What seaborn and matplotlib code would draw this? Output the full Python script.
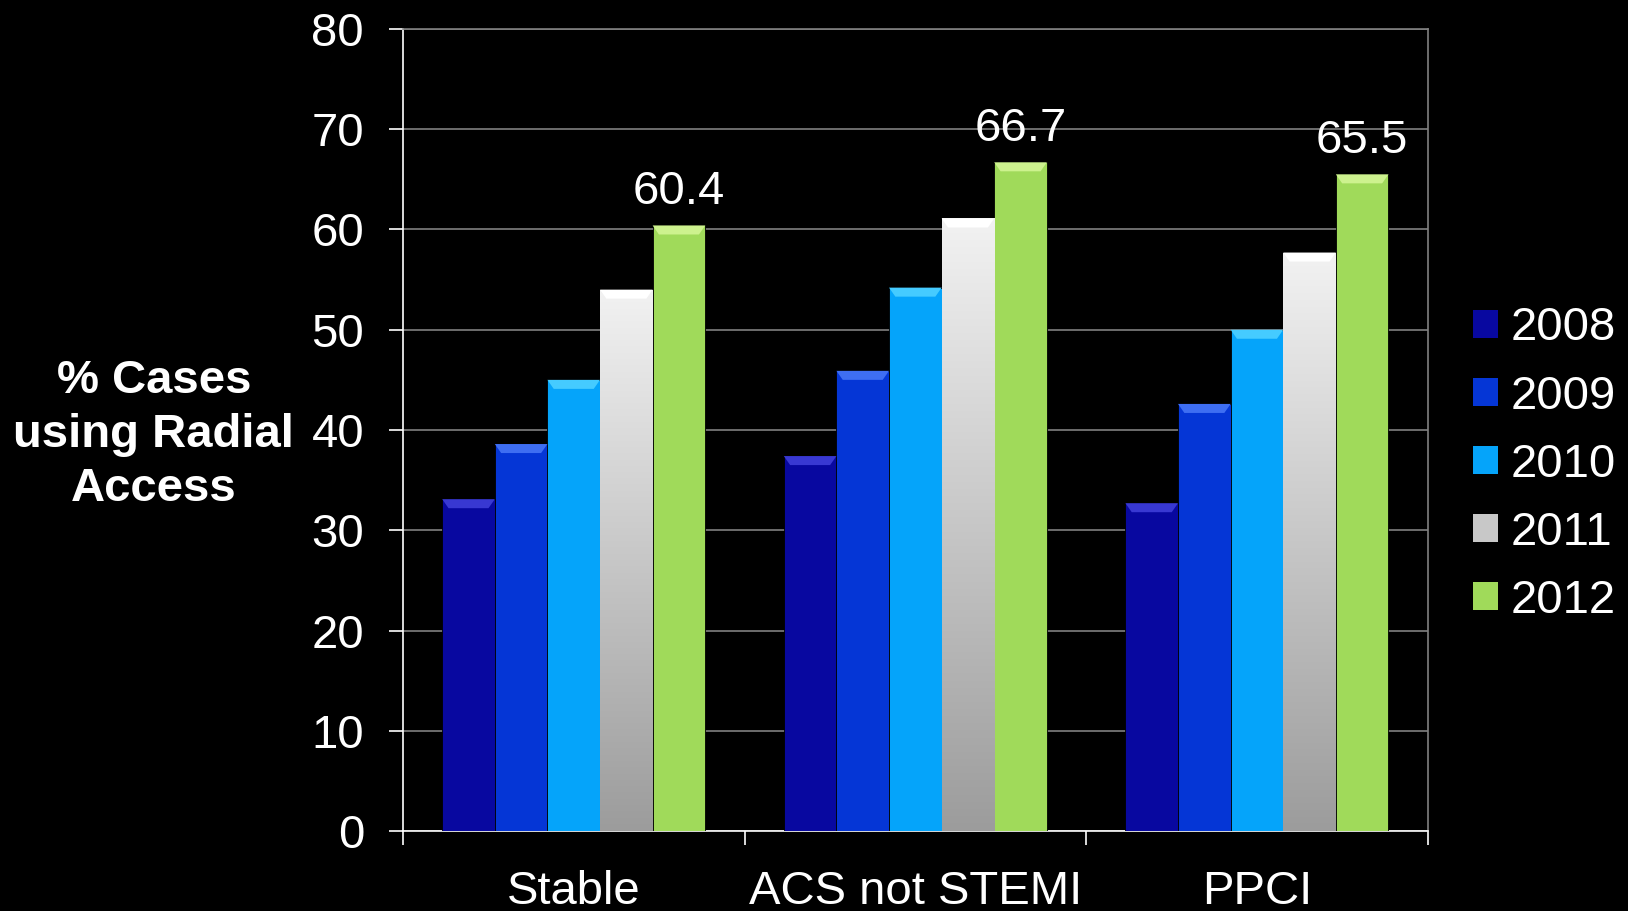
import numpy as np
import pandas as pd
import matplotlib
matplotlib.use("Agg")
import matplotlib.pyplot as plt
from matplotlib.patches import Patch, Polygon
import seaborn as sns

categories = ["Stable", "ACS not STEMI", "PPCI"]
years = ["2008", "2009", "2010", "2011", "2012"]
v2008 = [33.1, 37.4, 32.7]
v2009 = [38.6, 45.9, 42.6]
v2010 = [45.0, 54.2, 50.0]
v2011 = [54.0, 61.1, 57.7]
v2012 = [60.4, 66.7, 65.5]
yticks = [0, 10, 20, 30, 40, 50, 60, 70, 80]

colors = ["#0808A0", "#0536D6", "#05A4FA", "#C8C8C8", "#A0DA5A"]
bevel = ["#3838D2", "#3E6EF2", "#45CBFF", "#FFFFFF", "#CDF28E"]

series = [v2008, v2009, v2010, v2011, v2012]
rows = []
for y, vals in zip(years, series):
    for c, v in zip(categories, vals):
        rows.append({"category": c, "year": y, "value": v})
df = pd.DataFrame(rows)

sns.set_theme(style="dark")
plt.rcParams["font.family"] = ["Liberation Sans", "DejaVu Sans"]

fig = plt.figure(figsize=(16.28, 9.11), dpi=100, facecolor="black")
ax = fig.add_axes([0.2475, 0.0878, 0.6295, 0.8804])
ax.set_facecolor("black")

sns.barplot(data=df, x="category", y="value", hue="year", palette=colors,
            width=0.77, saturation=1, ax=ax, legend=False,
            edgecolor="#000000", linewidth=0.6, zorder=3)

# gradient for 2011 bars
grad = np.linspace(0, 1, 256).reshape(-1, 1)
cmap = matplotlib.colors.LinearSegmentedColormap.from_list("g", ["#F2F2F2", "#9C9C9C"])
for p in ax.containers[3]:
    x0, y0 = p.get_x(), p.get_y()
    w, h = p.get_width(), p.get_height()
    im = ax.imshow(grad, extent=[x0, x0 + w, y0, y0 + h], origin="upper",
                   cmap=cmap, aspect="auto", zorder=3.5)
    im.set_clip_path(p)

# bevel highlight on bar tops
for cont, bc in zip(ax.containers, bevel):
    for p in cont:
        x0, w, top = p.get_x(), p.get_width(), p.get_y() + p.get_height()
        d = w * 0.12
        hh = 0.9
        ax.add_patch(Polygon([(x0, top), (x0 + w, top), (x0 + w - d, top - hh),
                              (x0 + d, top - hh)], closed=True, facecolor=bc,
                             edgecolor="none", zorder=4))

ax.bar_label(ax.containers[4], fmt="%.1f", padding=8, color="white", fontsize=34)

ax.set_xlim(-0.5, 2.5)
ax.set_ylim(0, 80)
ax.set_yticks(yticks)
ax.set_yticklabels([str(t) for t in yticks])
ax.yaxis.grid(True, color="#808080", linewidth=1.2)
ax.xaxis.grid(False)
ax.set_axisbelow(True)

ax.tick_params(axis="y", colors="white", labelsize=34, length=10, width=1.2,
               direction="out", pad=18, left=True)
ax.tick_params(axis="x", colors="white", labelsize=34, length=0, pad=28)
ax.set_xticks([-0.5, 0.5, 1.5, 2.5], minor=True)
ax.tick_params(axis="x", which="minor", length=10, width=1.2, color="white",
               direction="out", bottom=True)
ax.set_xlabel("")
ax.set_ylabel("% Cases\nusing Radial\nAccess", rotation=0, color="white",
              fontsize=34, fontweight="bold", ha="center", va="center",
              linespacing=1.3)
ax.yaxis.set_label_coords(-0.243, 0.4935)

for s in ["left", "bottom"]:
    ax.spines[s].set_color("white")
    ax.spines[s].set_linewidth(1.2)
for s in ["top", "right"]:
    ax.spines[s].set_color("#808080")
    ax.spines[s].set_linewidth(1.2)

handles = [Patch(facecolor=c, edgecolor="none") for c in colors]
leg = ax.legend(handles, years, loc="center left", bbox_to_anchor=(0.905, 0.49),
                bbox_transform=fig.transFigure, frameon=False, fontsize=34,
                labelcolor="white", handlelength=0.53, handleheight=0.53,
                handletextpad=0.25, labelspacing=0.51, borderpad=0,
                borderaxespad=0)

fig.savefig("out.png", dpi=100, facecolor="black")
